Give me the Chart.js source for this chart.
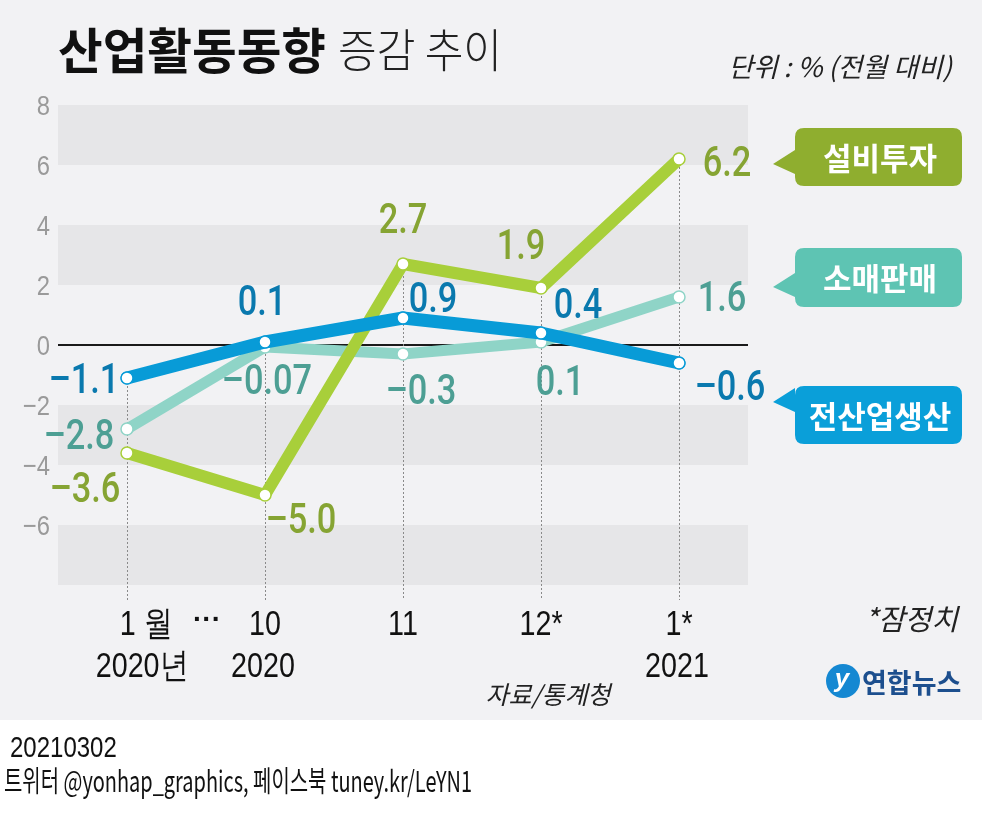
<!DOCTYPE html>
<html>
<head>
<meta charset="utf-8">
<script src="https://cdn.jsdelivr.net/npm/chart.js@4/dist/chart.umd.min.js"></script>
<style>
  html, body { margin: 0; padding: 0; background: #fff; }
  canvas { display: block; }
</style>
</head>
<body>
<canvas id="myChart" width="982" height="822"></canvas>
<script>
// data (% change vs previous month)
const months = [['1 월', '2020년'], ['10', '2020'], ['11'], ['12*'], ['1*', '2021']];
const yTicks = [-8, -6, -4, -2, 0, 2, 4, 6, 8];
const investment = [-3.6, -5.0, 2.7, 1.9, 6.2];
const retail = [-2.8, -0.07, -0.3, 0.1, 1.6];
const production = [-1.1, 0.1, 0.9, 0.4, -0.6];
const investmentText = ['–3.6', '–5.0', '2.7', '1.9', '6.2'];
const retailText = ['–2.8', '–0.07', '–0.3', '0.1', '1.6'];
const productionText = ['–1.1', '0.1', '0.9', '0.4', '–0.6'];
const seriesNames = ['설비투자', '소매판매', '전산업생산'];

const GREEN = '#a8cf3a', TEAL = '#8fd4c7', BLUE = '#089bd7';
const SANS = '"Liberation Sans", Arial, sans-serif';
const KR = '"Noto Sans CJK KR", "Noto Sans", sans-serif';

// label offsets from each point, in pixels
const labelOffsets = [
  [[-42, 34], [36, 23], [0, -46], [-20, -44], [48, 2]],
  [[-48, 5], [2, 32], [18, 35], [19, 38], [43, -1]],
  [[-43, 0], [-3, -42], [30, -21], [37, -30], [51, 22]]
];

function squeezed(ctx, text, x, y, font, color, align, sx) {
  ctx.save();
  ctx.font = font;
  ctx.fillStyle = color;
  ctx.textAlign = align || 'center';
  ctx.textBaseline = 'alphabetic';
  ctx.translate(x, y);
  ctx.scale(sx || 0.82, 1);
  ctx.fillText(text, 0, 0);
  ctx.restore();
}

function callout(ctx, top, bottom, tipY, color, text) {
  const l = 795, r = 962, rad = 9;
  ctx.save();
  ctx.fillStyle = color;
  ctx.beginPath();
  ctx.moveTo(l + rad, top);
  ctx.lineTo(r - rad, top);
  ctx.quadraticCurveTo(r, top, r, top + rad);
  ctx.lineTo(r, bottom - rad);
  ctx.quadraticCurveTo(r, bottom, r - rad, bottom);
  ctx.lineTo(l + rad, bottom);
  ctx.quadraticCurveTo(l, bottom, l, bottom - rad);
  ctx.lineTo(l, tipY + 10);
  ctx.lineTo(773, tipY);
  ctx.lineTo(l, tipY - 14);
  ctx.lineTo(l, top + rad);
  ctx.quadraticCurveTo(l, top, l + rad, top);
  ctx.fill();
  ctx.fillStyle = '#fff';
  ctx.font = 'bold 31px ' + KR;
  ctx.textAlign = 'center';
  ctx.textBaseline = 'middle';
  ctx.fillText(text, 880, (top + bottom) / 2 + 1, text.length * 29);
  ctx.restore();
}

const decor = {
  id: 'decor',
  beforeDraw(chart) {
    const { ctx, chartArea: a, scales: { y } } = chart;
    ctx.save();
    ctx.fillStyle = '#f2f2f4';
    ctx.fillRect(0, 0, 982, 720);
    ctx.fillStyle = '#e6e6e8';
    [[6, 8], [2, 4], [-4, -2], [-8, -6]].forEach(([lo, hi]) => {
      const t = y.getPixelForValue(hi), b = y.getPixelForValue(lo);
      ctx.fillRect(a.left, t, a.right - a.left, b - t);
    });
    // y tick labels (bottom one left out, as in the original)
    y.ticks.forEach((tk, i) => {
      const v = tk.value;
      if (v === yTicks[0]) return;
      const txt = v < 0 ? '−' + Math.abs(v) : String(v);
      squeezed(ctx, txt, 50, y.getPixelForTick(i) + 10, '28px ' + SANS, '#9a9a9a', 'right', 0.85);
    });
    ctx.restore();
  },
  beforeDatasetsDraw(chart) {
    const { ctx, scales: { x, y } } = chart;
    ctx.save();
    ctx.strokeStyle = '#8a8a8a';
    ctx.lineWidth = 1;
    ctx.setLineDash([2, 2]);
    months.forEach((m, i) => {
      const top = Math.max(investment[i], retail[i], production[i]);
      const px = Math.round(x.getPixelForValue(i)) + 0.5;
      ctx.beginPath();
      ctx.moveTo(px, y.getPixelForValue(top));
      ctx.lineTo(px, 600);
      ctx.stroke();
    });
    ctx.restore();
  },
  afterDraw(chart) {
    const { ctx, scales: { x, y } } = chart;
    ctx.save();
    // value labels
    const sets = [[investment, investmentText, '#86a433'], [retail, retailText, '#4d9f94'], [production, productionText, '#0a79ae']];
    sets.forEach(([vals, texts, col], s) => {
      vals.forEach((v, i) => {
        const px = x.getPixelForValue(i) + labelOffsets[s][i][0];
        const py = y.getPixelForValue(v) + labelOffsets[s][i][1];
        squeezed(ctx, texts[i], px, py + 15, '500 43px Roboto', col, 'center', 0.8);
      });
    });
    // x labels
    months.forEach((m, i) => {
      const px = x.getPixelForValue(i);
      const dx = i === 0 ? 19 : 0;
      squeezed(ctx, m[0], px + dx, 635, '35px ' + SANS, '#111', 'center', 0.82);
      if (m[1]) squeezed(ctx, m[1], px + (i === 0 ? 15 : -2), 677, '35px ' + SANS, '#111', 'center', 0.82);
    });
    squeezed(ctx, '···', 207, 628, 'bold 28px ' + SANS, '#111', 'center', 1);

    // title
    ctx.textBaseline = 'middle';
    ctx.textAlign = 'left';
    ctx.fillStyle = '#111';
    ctx.font = 'bold 49px ' + KR;
    ctx.fillText('산업활동동향', 58, 50, 268);
    ctx.fillStyle = '#222';
    ctx.font = '300 46px ' + KR;
    ctx.fillText('증감 추이', 338, 50, 164);

    // unit & notes
    ctx.fillStyle = '#222';
    ctx.textAlign = 'right';
    ctx.font = 'italic 27px ' + KR;
    ctx.fillText('단위 : % (전월 대비)', 952, 67, 240);
    ctx.font = 'italic 29px ' + KR;
    ctx.fillText('*잠정치', 958, 619, 94);
    ctx.textAlign = 'center';
    ctx.font = 'italic 25px ' + KR;
    ctx.fillText('자료/통계청', 548, 694, 130);

    // callouts
    callout(ctx, 128, 186, 164, '#8fae2f', seriesNames[0]);
    callout(ctx, 248, 307, 287, '#5ec4b3', seriesNames[1]);
    callout(ctx, 386, 444, 402, '#0a9fd9', seriesNames[2]);

    // logo
    ctx.fillStyle = '#1588d2';
    ctx.beginPath();
    ctx.arc(843, 681, 17, 0, Math.PI * 2);
    ctx.fill();
    ctx.fillStyle = '#fff';
    ctx.font = 'italic bold 26px ' + SANS;
    ctx.textAlign = 'center';
    ctx.fillText('y', 842, 680);
    ctx.fillStyle = '#1d4f8e';
    ctx.font = 'bold 27px ' + KR;
    ctx.textAlign = 'left';
    ctx.fillText('연합뉴스', 862, 683, 100);

    // footer
    ctx.textBaseline = 'alphabetic';
    squeezed(ctx, '20210302', 10, 757, '30px ' + SANS, '#111', 'left', 0.8);
    ctx.fillStyle = '#111';
    ctx.font = '29px ' + KR;
    ctx.fillText('트위터 @yonhap_graphics, 페이스북 tuney.kr/LeYN1', 4, 792, 468);
    ctx.restore();
  }
};

function lineSet(label, data, color, width, order) {
  return {
    label: label,
    data: data,
    borderColor: color,
    borderWidth: width,
    borderCapStyle: 'round',
    borderJoinStyle: 'round',
    tension: 0,
    fill: false,
    order: order,
    pointRadius: 6,
    pointBackgroundColor: '#fff',
    pointBorderColor: color,
    pointBorderWidth: 1.5
  };
}

const myChart = new Chart(document.getElementById('myChart'), {
  type: 'line',
  data: {
    labels: months,
    datasets: [
      lineSet(seriesNames[0], investment, GREEN, 12, 2),
      lineSet(seriesNames[1], retail, TEAL, 11, 3),
      lineSet(seriesNames[2], production, BLUE, 13, 1)
    ]
  },
  options: {
    responsive: false,
    devicePixelRatio: 1,
    animation: false,
    layout: { padding: { left: 58, right: 234, top: 105, bottom: 237 } },
    plugins: { legend: { display: false }, tooltip: { enabled: false } },
    scales: {
      x: {
        offset: true,
        display: false,
        grid: { display: false }
      },
      y: {
        min: yTicks[0],
        max: yTicks[yTicks.length - 1],
        afterFit: (s) => { s.width = 0; },
        afterBuildTicks: (s) => { s.ticks = yTicks.map(v => ({ value: v })); },
        ticks: { display: false },
        border: { display: false },
        grid: {
          drawTicks: false,
          lineWidth: 2,
          color: (c) => c.tick && c.tick.value === 0 ? '#1a1a1a' : 'rgba(0,0,0,0)'
        }
      }
    }
  },
  plugins: [decor]
});
</script>
</body>
</html>
